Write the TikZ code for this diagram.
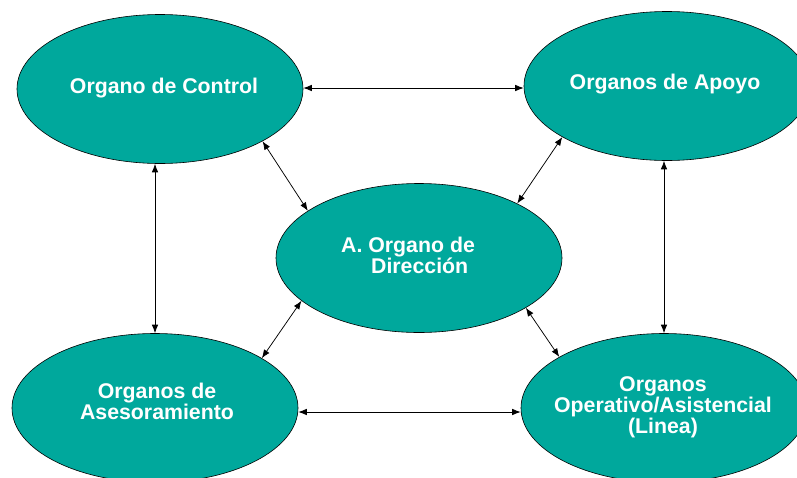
\documentclass[tikz,border=0pt]{standalone}
\usepackage{fontspec}
\setmainfont{Liberation Sans}
\usetikzlibrary{arrows.meta,shapes.geometric}
\definecolor{orgteal}{RGB}{0,168,156}
\begin{document}
\begin{tikzpicture}[x=1pt,y=-1pt,
  org/.style={ellipse, draw=black, line width=0.6pt, fill=orgteal, minimum width=286pt, minimum height=149pt, inner sep=0pt},
  orgtext/.style={text=white, font=\fontsize{21.3}{21}\selectfont\bfseries, align=center, inner sep=0pt},
  link/.style={line width=0.75pt, {Latex[length=8.5pt,width=6.5pt]}-{Latex[length=8.5pt,width=6.5pt]}}]
\useasboundingbox (0,0) rectangle (797,477);
\clip (0,0) rectangle (797,477);
\fill[white] (0,0) rectangle (797,477);
\node[org] (ctrl) at (160,89) {};
\node[org] (apoyo) at (667,86) {};
\node[org] (dir) at (419,258) {};
\node[org] (ases) at (155,408) {};
\node[org] (oper) at (664,408) {};
\node[orgtext] (ctrlt) at (164,88) {Organo de Control};
\node[orgtext] (apoyot) at (665,84) {Organos de Apoyo};
\node[orgtext, align=left] (dirt) at (408,255) {A. Organo de\\\hspace*{30pt}Dirección};
\node[orgtext] (asest) at (157,401.5) {Organos de\\Asesoramiento};
\node[orgtext] (opert) at (663,407) {Organos\\Operativo/Asistencial\\(Linea)};
\draw[link] ([yshift=1pt]ctrl.east) -- ([yshift=1pt]ctrl.east -| apoyo.west);
\draw[link] (ases.north) -- (ases.north |- ctrl.south);
\draw[link] (oper.north) -- (oper.north |- apoyo.south);
\draw[link] ([yshift=-4pt]ases.east) -- ([yshift=-4pt]ases.east -| oper.west);
\draw[link] (ctrl.-27) -- (dir.157.6);
\draw[link] (apoyo.206) -- (dir.29);
\draw[link] (ases.25.5) -- (dir.200);
\draw[link] (oper.154.5) -- (dir.-25);
\end{tikzpicture}
\end{document}
